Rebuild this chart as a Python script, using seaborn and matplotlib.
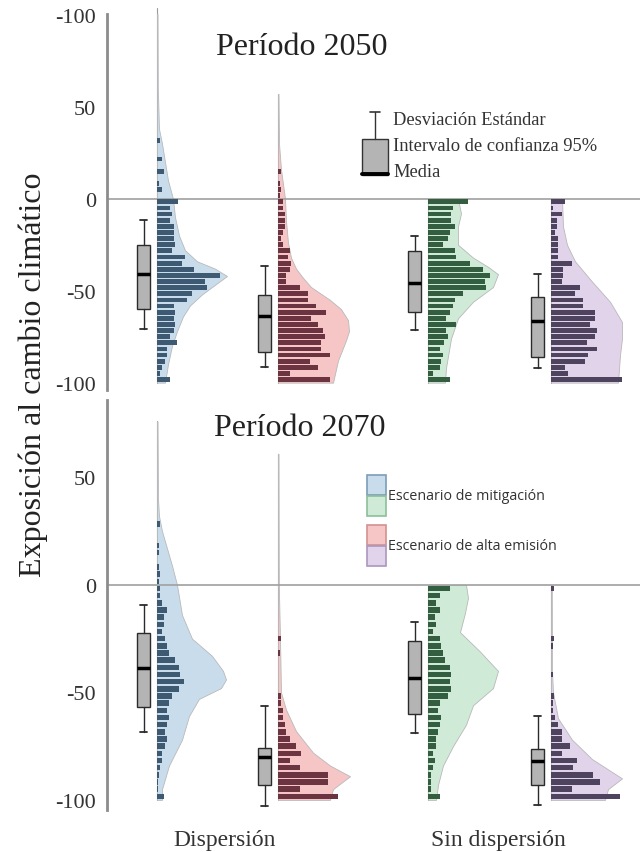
import numpy as np
import matplotlib.pyplot as plt
import matplotlib.patches as mpatches
import seaborn as sns

sns.set_theme(style="white")
plt.rcParams['font.family'] = ['Liberation Serif', 'DejaVu Serif']

# ---------------- data ----------------
# histogram bins of 10/3 units, from +40 down to -100 (12 above zero, 30 below)
bin_w = 10 / 3
bin_centers = 40 - bin_w * (np.arange(42) + 0.5)

# bar lengths, top bin first
hist_2050_disp_mit = [0, 0, 3, 0, 0, 5, 0, 7, 0, 2, 5, 0,
                      21, 13, 15, 13, 17, 17, 17, 18, 15, 28, 25, 37, 63, 48, 50,
                      35, 30, 17, 18, 17, 18, 17, 13, 20, 10, 10, 8, 5, 3, 13]
hist_2050_disp_alt = [0, 0, 0, 0, 0, 0, 0, 3, 0, 2, 3, 2,
                      5, 5, 7, 7, 7, 5, 3, 5, 12, 10, 13, 12, 8, 8, 22,
                      30, 30, 38, 48, 33, 40, 45, 47, 43, 43, 52, 32, 40, 12, 52]
hist_2050_sin_mit = [0] * 12 + [40, 25, 23, 23, 27, 22, 20, 15, 27, 28, 42, 55, 62, 57, 58,
                                35, 27, 25, 22, 18, 28, 18, 20, 16, 12, 15, 13, 12, 5, 22]
hist_2050_sin_alt = [0] * 12 + [14, 2, 11, 6, 6, 4, 7, 7, 7, 7, 21, 12, 12, 11, 29,
                                24, 32, 32, 44, 44, 39, 46, 44, 36, 46, 37, 34, 14, 17, 71]

hist_2070_disp_mit = [0, 0, 0, 3, 0, 0, 2, 2, 0, 2, 3, 2,
                      3, 3, 5, 10, 7, 7, 5, 8, 10, 12, 18, 22, 23, 27, 22,
                      15, 12, 10, 12, 10, 8, 10, 8, 5, 5, 3, 2, 1, 1, 7]
hist_2070_disp_alt = [0] * 12 + [0, 0, 0, 0, 0, 0, 0, 3, 0, 2, 0, 0, 0, 0, 0,
                                 3, 3, 5, 5, 7, 8, 12, 18, 23, 12, 22, 50, 50, 22, 60]
hist_2070_sin_mit = [0] * 12 + [22, 12, 8, 12, 7, 8, 5, 12, 13, 15, 17, 22, 23, 22, 23,
                                20, 12, 10, 13, 12, 10, 8, 8, 5, 7, 5, 3, 3, 3, 12]
hist_2070_sin_alt = [0] * 12 + [3, 0, 0, 0, 0, 0, 0, 3, 2, 0, 0, 0, 2, 0, 0,
                                3, 2, 2, 4, 7, 11, 11, 19, 11, 26, 22, 42, 49, 21, 69]

# density (violin) outlines: value and half-width
viol_2050_disp_mit_y = [104, 60, 38, 30, 20, 10, 0, -10, -20, -28, -34, -38, -42, -46, -52, -58, -64, -72, -80, -90, -100]
viol_2050_disp_mit_w = [0.5, 0.8, 2, 5, 8, 11, 16, 18, 22, 28, 40, 58, 70, 60, 45, 33, 26, 20, 15, 11, 8]
viol_2050_disp_alt_y = [57, 30, 16, 0, -12, -24, -32, -38, -43, -48, -55, -60, -66, -72, -77, -88, -100]
viol_2050_disp_alt_w = [0.5, 1, 3, 7, 8, 10, 13, 18, 25, 33, 52, 63, 70, 71, 68, 60, 55]
viol_2050_sin_mit_y = [0, -8, -15, -25, -32, -37, -41, -48, -56, -65, -76, -92, -100]
viol_2050_sin_mit_w = [30, 33, 30, 30, 45, 60, 70, 65, 45, 30, 23, 18, 17]
viol_2050_sin_alt_y = [0, -15, -25, -34, -45, -56, -67, -76, -85, -100]
viol_2050_sin_alt_w = [11, 12, 16, 24, 41, 59, 71, 71, 69, 67]

viol_2070_disp_mit_y = [76, 40, 32, 25, 9, 0, -14, -25, -33, -40, -44, -48, -53, -61, -72, -84, -95, -100]
viol_2070_disp_mit_w = [0.5, 1, 2, 5, 15, 20, 25, 35, 55, 66, 69, 64, 42, 32, 25, 12, 5, 5]
viol_2070_disp_alt_y = [61, 0, -25, -50, -58, -68, -78, -84, -89, -95, -100]
viol_2070_disp_alt_w = [0.5, 0.8, 2, 3, 8, 18, 35, 52, 72, 55, 52]
viol_2070_sin_mit_y = [0, -6, -13, -22, -31, -40, -48, -56, -65, -75, -84, -93, -100]
viol_2070_sin_mit_w = [38, 40, 37, 32, 52, 70, 65, 45, 38, 25, 15, 10, 8]
viol_2070_sin_alt_y = [0, -40, -50, -62, -72, -81, -90, -95, -100]
viol_2070_sin_alt_w = [0.8, 1, 2, 7, 21, 41, 71, 57, 54]

# box: standard deviation (whiskers), 95% CI (box), mean (line)
sd_lo_2050 = [-70.7, -91.5, -71.2, -91.8]
ci_lo_2050 = [-59.8, -83.3, -61.6, -86.0]
mean_2050 = [-41.1, -63.8, -45.8, -66.7]
ci_hi_2050 = [-25.4, -52.6, -28.4, -53.4]
sd_hi_2050 = [-11.8, -36.6, -20.5, -41.1]

sd_lo_2070 = [-68.2, -103.0, -69.0, -102.6]
ci_lo_2070 = [-56.9, -93.3, -60.0, -93.3]
mean_2070 = [-38.8, -80.0, -43.4, -81.7]
ci_hi_2070 = [-22.3, -75.8, -25.9, -76.3]
sd_hi_2070 = [-9.3, -56.4, -17.4, -60.8]

groups = ['Dispersión', 'Sin dispersión']

# ---------------- styling ----------------
light = ['#c9dcec', '#f6c6c6', '#cfead6', '#e1d3ea']
dark = ['#3e5a72', '#6c3340', '#345e40', '#4e4460']
edge = ['#7d9db8', '#d49090', '#8cbf98', '#ab96bf']
bases = [50, 171, 321, 444]

fig = plt.figure(figsize=(6.4, 8.53), dpi=100)


def fx(px):
    return px / 640


def fy(py):
    return 1 - py / 853


def draw_panel(ax, hists, viols, sd_lo, ci_lo, mean, ci_hi, sd_hi, ylim, ticks, ticklabels):
    ax.set_xlim(0, 533)
    ax.set_ylim(*ylim)
    for i, base in enumerate(bases):
        vy, vw = viols[i]
        vy = np.array(vy)
        vw = np.array(vw)
        ax.plot([base, base], [vy.min(), vy.max()], color='#9a9a9a', lw=0.8, zorder=1, clip_on=False)
        ax.fill_betweenx(vy, base, base + vw, facecolor=light[i], edgecolor='#b9b9b9', lw=0.6, zorder=1)
        ax.barh(bin_centers, hists[i], height=bin_w * 0.78, left=base, color=dark[i], lw=0, zorder=3)
    stats = [dict(med=mean[i], q1=ci_lo[i], q3=ci_hi[i], whislo=sd_lo[i], whishi=sd_hi[i], fliers=[])
             for i in range(4)]
    ax.bxp(stats, positions=[b - 13.5 for b in bases], widths=13, patch_artist=True,
           showfliers=False, manage_ticks=False,
           boxprops=dict(facecolor='#b4b4b4', edgecolor='#2b2b2b', lw=1),
           medianprops=dict(color='black', lw=2.5),
           whiskerprops=dict(color='#2b2b2b', lw=1),
           capprops=dict(color='#2b2b2b', lw=1.3))
    ax.axhline(0, color='#a0a0a0', lw=1.2, zorder=2)
    ax.set_yticks(ticks, ticklabels)
    ax.tick_params(axis='y', length=0, pad=8, labelsize=16, labelcolor='#333333')
    sns.despine(ax=ax, bottom=True)
    ax.spines['left'].set_color('#8c8c8c')
    ax.spines['left'].set_linewidth(2)
    ax.set_facecolor('none')


ax1 = fig.add_axes([fx(107), fy(391), fx(533), 376 / 853])
draw_panel(ax1,
           [hist_2050_disp_mit, hist_2050_disp_alt, hist_2050_sin_mit, hist_2050_sin_alt],
           [(viol_2050_disp_mit_y, viol_2050_disp_mit_w), (viol_2050_disp_alt_y, viol_2050_disp_alt_w),
            (viol_2050_sin_mit_y, viol_2050_sin_mit_w), (viol_2050_sin_alt_y, viol_2050_sin_alt_w)],
           sd_lo_2050, ci_lo_2050, mean_2050, ci_hi_2050, sd_hi_2050,
           (-104, 100.5), [-100, -50, 0, 50, 100], ['-100', '-50', '0', '50', '-100'])
ax1.set_xticks([])

ax2 = fig.add_axes([fx(107), fy(811), fx(533), 410 / 853])
draw_panel(ax2,
           [hist_2070_disp_mit, hist_2070_disp_alt, hist_2070_sin_mit, hist_2070_sin_alt],
           [(viol_2070_disp_mit_y, viol_2070_disp_mit_w), (viol_2070_disp_alt_y, viol_2070_disp_alt_w),
            (viol_2070_sin_mit_y, viol_2070_sin_mit_w), (viol_2070_sin_alt_y, viol_2070_sin_alt_w)],
           sd_lo_2070, ci_lo_2070, mean_2070, ci_hi_2070, sd_hi_2070,
           (-104.7, 86), [-100, -50, 0, 50], ['-100', '-50', '0', '50'])
ax2.set_xticks([118, 391], groups)
ax2.tick_params(axis='x', length=0, pad=14, labelsize=17, labelcolor='#333333')

# ---------------- overlay: titles, label, legends ----------------
lay = fig.add_axes([0, 0, 1, 1], zorder=5)
lay.set_xlim(0, 640)
lay.set_ylim(853, 0)
lay.axis('off')
lay.patch.set_alpha(0)

lay.text(302, 47, 'Período 2050', fontsize=23, ha='center', va='center', color='#222222')
lay.text(300, 428, 'Período 2070', fontsize=23, ha='center', va='center', color='#222222')
lay.text(33, 375, 'Exposición al cambio climático', fontsize=23, rotation=90,
         ha='center', va='center', color='#222222')

# legend of the summary box
lay.plot([375, 375], [113, 140], color='#333333', lw=1)
lay.plot([370, 380], [113, 113], color='#333333', lw=1.2)
lay.add_patch(mpatches.Rectangle((362, 140), 26, 36, facecolor='#b4b4b4', edgecolor='#333333', lw=1))
lay.plot([362, 388], [175, 175], color='black', lw=2.8)
for ypos, txt in zip([120, 146, 172], ['Desviación Estándar', 'Intervalo de confianza 95%', 'Media']):
    lay.text(393, ypos, txt, fontsize=13.3, ha='left', va='center', color='#333333')

# legend of the scenarios
for ytop, i in zip([476, 497, 526, 547], [0, 2, 1, 3]):
    lay.add_patch(mpatches.Rectangle((367, ytop), 19, 20, facecolor=light[i], edgecolor=edge[i], lw=1.2))
lay.text(388, 496, 'Escenario de mitigación', fontsize=10.3, family='Open Sans',
         ha='left', va='center', color='#333333')
lay.text(388, 547, 'Escenario de alta emisión', fontsize=10.3, family='Open Sans',
         ha='left', va='center', color='#333333')

fig.savefig('out.png', dpi=100)
